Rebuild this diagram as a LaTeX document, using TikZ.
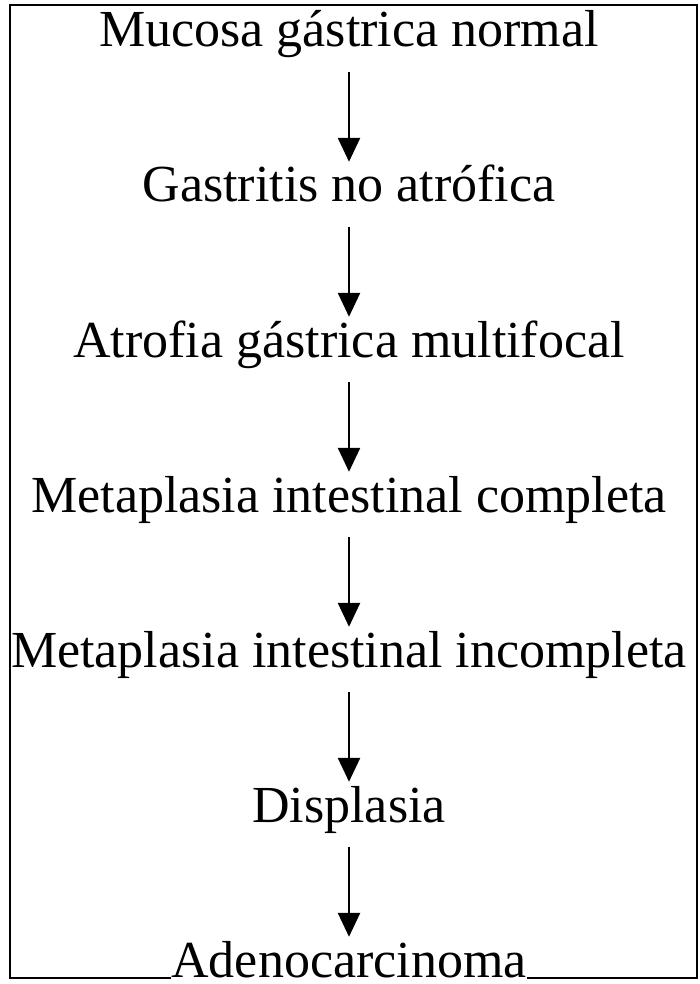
\documentclass[tikz,border=0pt]{standalone}
\usepackage{fontspec}
\setmainfont{Liberation Serif}
\usetikzlibrary{arrows.meta}

\begin{document}
\begin{tikzpicture}[x=1pt, y=-1pt,
    etapa/.style={anchor=base, inner sep=0pt, text height=36pt, text depth=12pt,
                  font=\fontsize{52pt}{60pt}\selectfont},
    flecha/.style={line width=2.5pt, shorten <=13pt, shorten >=4pt,
                   -{Triangle[width=22pt, length=24pt]}}
  ]
  \useasboundingbox (0,0) rectangle (699,984);
  \draw[line width=1.5pt] (10,5) rectangle (697,978);

  \node[etapa] (mucosa)   at (349, 47) {Mucosa gástrica normal};
  \node[etapa] (gastritis) at (349,202) {Gastritis no atrófica};
  \node[etapa] (atrofia)  at (349,357) {Atrofia gástrica multifocal};
  \node[etapa] (mcompl)   at (349,512) {Metaplasia intestinal completa};
  \node[etapa] (mincompl) at (349,667) {Metaplasia intestinal incompleta};
  \node[etapa] (displasia) at (349,822) {Displasia};
  \node[etapa, fill=white, text depth=6pt] (adeno) at (349,977) {Adenocarcinoma};

  \draw[flecha] (mucosa) -- (gastritis);
  \draw[flecha] (gastritis) -- (atrofia);
  \draw[flecha] (atrofia) -- (mcompl);
  \draw[flecha] (mcompl) -- (mincompl);
  \draw[flecha] (mincompl) -- (displasia);
  \draw[flecha] (displasia) -- (adeno);
\end{tikzpicture}
\end{document}
